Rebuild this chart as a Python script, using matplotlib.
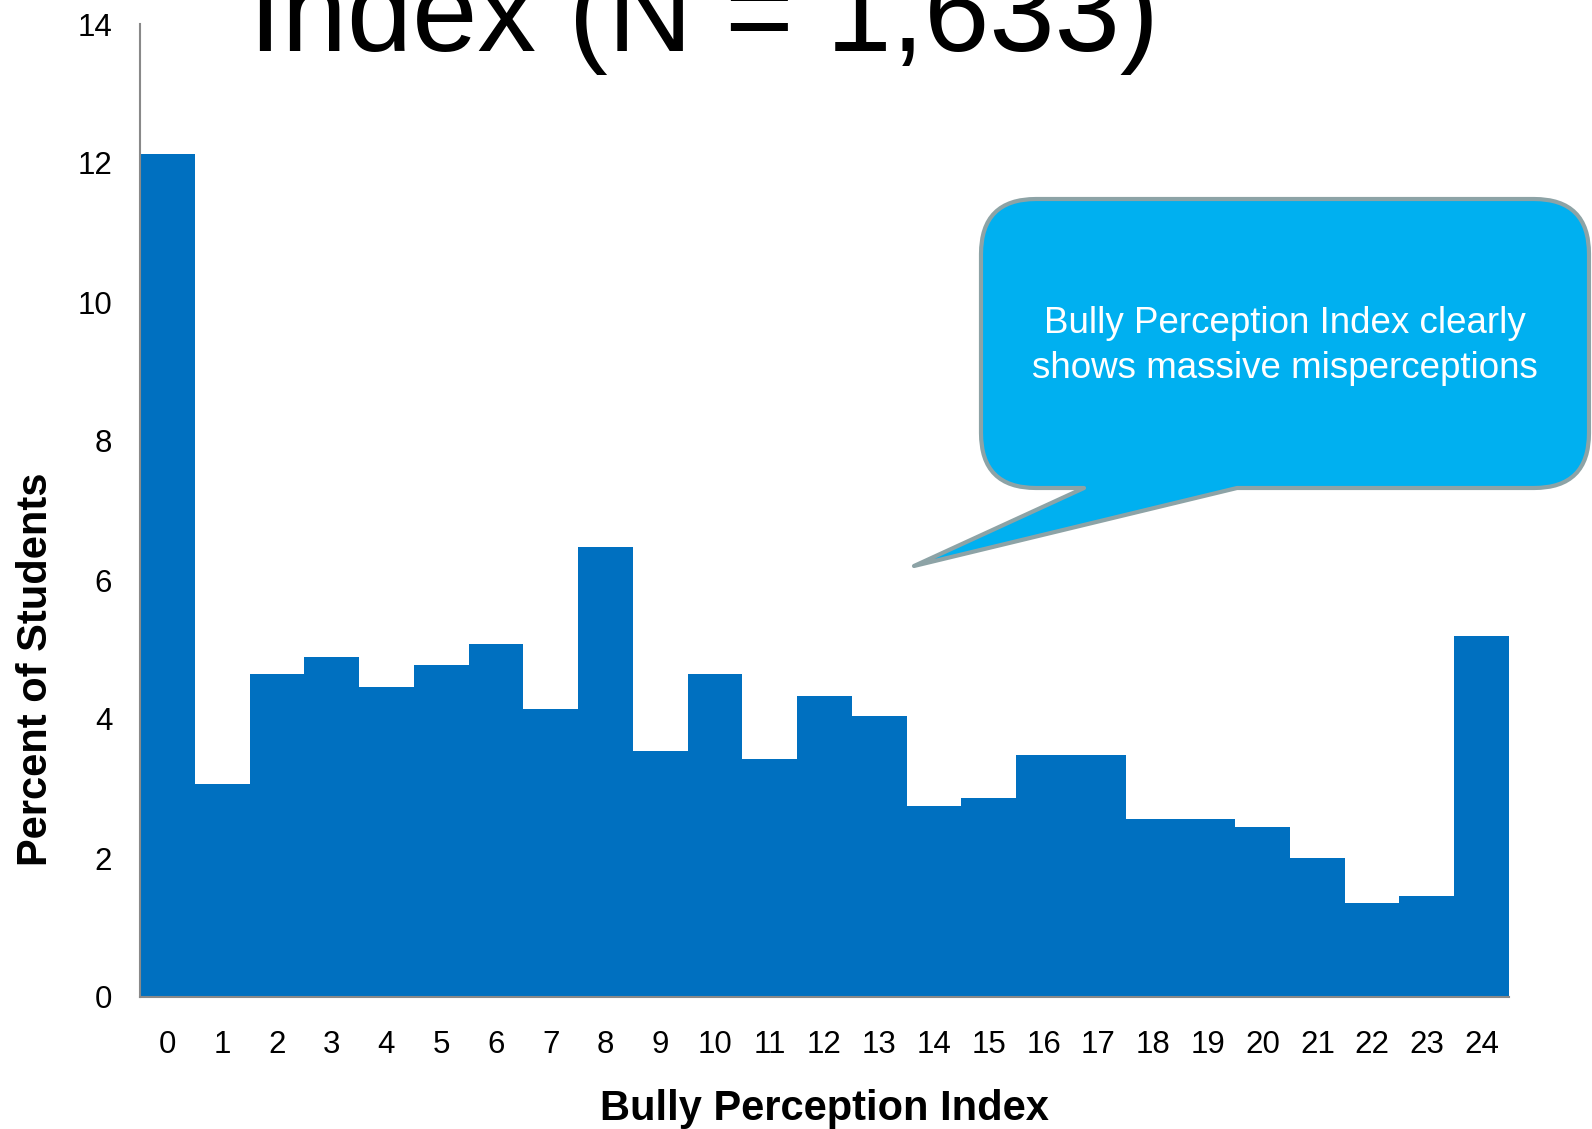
import matplotlib
matplotlib.use("Agg")
import matplotlib.pyplot as plt
from matplotlib.path import Path
from matplotlib.patches import PathPatch

plt.rcParams["font.family"] = ["Liberation Sans", "DejaVu Sans"]

# percent of students at each index score
index_scores = list(range(25))
percent_students = [12.13, 3.06, 4.65, 4.89, 4.46, 4.77, 5.08, 4.15, 6.48, 3.54,
                    4.65, 3.42, 4.33, 4.04, 2.75, 2.87, 3.48, 3.48, 2.56, 2.56,
                    2.44, 2.00, 1.35, 1.46, 5.19]
y_ticks = [0, 2, 4, 6, 8, 10, 12, 14]

title_text = "Index (N = 1,633)"
callout_text = "Bully Perception Index clearly\nshows massive misperceptions"

W, H = 1592, 1129
fig = plt.figure(figsize=(W / 100, H / 100), dpi=100)
ax = fig.add_axes([140 / W, 132 / H, 1369 / W, 973 / H])

ax.bar(index_scores, percent_students, width=1.0, color="#0070C0", edgecolor="none", zorder=2)

ax.set_xlim(-0.5, 24.5)
ax.set_ylim(0, 14)
ax.set_xticks(index_scores)
ax.set_yticks(y_ticks)
ax.tick_params(axis="both", length=0, labelsize=22.5)
ax.tick_params(axis="y", pad=20)
ax.tick_params(axis="x", pad=24)

for side in ["top", "right"]:
    ax.spines[side].set_visible(False)
for side in ["left", "bottom"]:
    ax.spines[side].set_color("#898989")
    ax.spines[side].set_linewidth(1.5)

ax.set_xlabel("Bully Perception Index", fontsize=30, fontweight="bold", va="center")
ax.set_ylabel("Percent of Students", fontsize=30, fontweight="bold", va="center")
ax.xaxis.set_label_coords(0.5, -0.115)
ax.yaxis.set_label_coords(-0.076, 0.337)

# big heading, mostly running off the top edge
fig.text(249 / W, 1 - 51 / H, title_text, fontsize=84.5, ha="left", va="baseline")


# speech bubble, laid out in pixel coordinates (y measured from the top)
def px(x, y):
    return (x / W, 1 - y / H)


x0, x1, top, bot, r = 981, 1589, 199, 488, 55
tip = (914, 566)
base_l, base_r = 1084, 1237
pts = [
    (px(x0 + r, top), Path.MOVETO),
    (px(x1 - r, top), Path.LINETO),
    (px(x1, top), Path.CURVE3), (px(x1, top + r), Path.CURVE3),
    (px(x1, bot - r), Path.LINETO),
    (px(x1, bot), Path.CURVE3), (px(x1 - r, bot), Path.CURVE3),
    (px(base_r, bot), Path.LINETO),
    (px(*tip), Path.LINETO),
    (px(base_l, bot), Path.LINETO),
    (px(x0 + r, bot), Path.LINETO),
    (px(x0, bot), Path.CURVE3), (px(x0, bot - r), Path.CURVE3),
    (px(x0, top + r), Path.LINETO),
    (px(x0, top), Path.CURVE3), (px(x0 + r, top), Path.CURVE3),
    (px(x0 + r, top), Path.CLOSEPOLY),
]
verts, codes = zip(*pts)
bubble = PathPatch(Path(verts, codes), facecolor="#00B0F0", edgecolor="#8DA3A6",
                   linewidth=3, joinstyle="round", transform=fig.transFigure,
                   clip_on=False, zorder=5)
fig.patches.append(bubble)

fig.text(1285 / W, 1 - 346 / H, callout_text, fontsize=26.5, color="white",
         ha="center", va="center", linespacing=1.36, zorder=6)

fig.savefig("out.png", dpi=100)
